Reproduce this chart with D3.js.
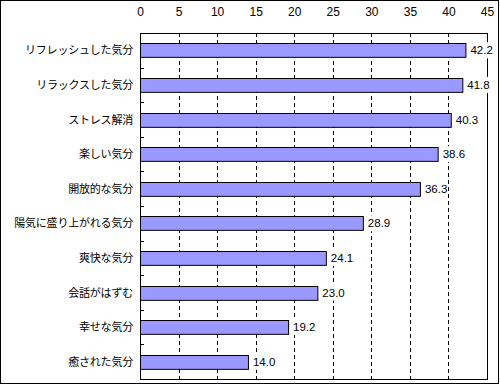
<!DOCTYPE html>
<html><head><meta charset="utf-8">
<script src="https://cdn.jsdelivr.net/npm/d3@7"></script>
<style>body{margin:0;background:#fff}svg{display:block}</style>
</head><body>
<svg id="c" width="500" height="385"></svg>
<script>
const categories = ["リフレッシュした気分","リラックスした気分","ストレス解消","楽しい気分","開放的な気分","陽気に盛り上がれる気分","爽快な気分","会話がはずむ","幸せな気分","癒された気分"];
const values = [42.2,41.8,40.3,38.6,36.3,28.9,24.1,23.0,19.2,14.0];
const xTicks = [0,5,10,15,20,25,30,35,40,45];

const svg = d3.select("#c");
const L=140, R=487, T=33, B=379;
const x = d3.scaleLinear().domain([0,45]).range([L,R]);
const y = d3.scaleBand().domain(categories).range([T,B]).paddingInner(0.6).paddingOuter(0.3);
const yb = d3.scaleBand().domain(categories).range([T,B]);

svg.append("rect").attr("x",0.5).attr("y",0.5).attr("width",498).attr("height",383)
  .attr("fill","#fff").attr("stroke","#000");

// gridlines
svg.append("g").selectAll("line").data(xTicks.filter(d=>d>0&&d<45)).join("line")
  .attr("x1",d=>Math.round(x(d))+0.5).attr("x2",d=>Math.round(x(d))+0.5)
  .attr("y1",T).attr("y2",B).attr("stroke","#000").attr("stroke-dasharray","4,3");

// plot frame
svg.append("rect").attr("x",L+0.5).attr("y",T+0.5).attr("width",R-L).attr("height",B-T)
  .attr("fill","none").attr("stroke","#000");

// inner category ticks
svg.append("g").selectAll("line").data(categories.slice(1)).join("line")
  .attr("x1",L).attr("x2",L+4)
  .attr("y1",d=>Math.round(yb(d))+0.5).attr("y2",d=>Math.round(yb(d))+0.5)
  .attr("stroke","#000");

// top axis labels
const ax = d3.axisTop(x).tickValues(xTicks).tickSize(0).tickFormat(d3.format("d"));
const g = svg.append("g").attr("transform",`translate(0,${T-14})`).call(ax);
g.select(".domain").remove();
g.selectAll("text").attr("font-family","'Liberation Sans', Arial, sans-serif").attr("font-size","12px").attr("fill","#000").attr("dy","0");

// bars
svg.append("g").selectAll("rect").data(values).join("rect")
  .attr("x",L+0.5).attr("y",(d,i)=>Math.round(y(categories[i]))+0.5)
  .attr("width",d=>x(d)-L).attr("height",y.bandwidth())
  .attr("fill","#9999FF").attr("stroke","#000");

// category labels
svg.append("g").selectAll("text").data(categories).join("text")
  .attr("x",L-7).attr("y",d=>yb(d)+yb.bandwidth()/2+4)
  .attr("text-anchor","end").attr("font-family","'Noto Sans CJK JP', sans-serif")
  .attr("font-size","11px").attr("letter-spacing","-0.2px").attr("fill","#000").text(d=>d);

// value labels
const vl = svg.append("g").selectAll("g").data(values).join("g")
  .attr("transform",(d,i)=>`translate(${x(d)+4},${yb(categories[i])+yb.bandwidth()/2})`);
vl.append("rect").attr("x",0).attr("y",-8).attr("width",22).attr("height",16).attr("fill","#fff");
vl.append("text").attr("x",1).attr("y",4).attr("font-family","'Liberation Sans', Arial, sans-serif")
  .attr("font-size","11.5px").attr("fill","#000").text(d=>d.toFixed(1));
</script>
</body></html>
